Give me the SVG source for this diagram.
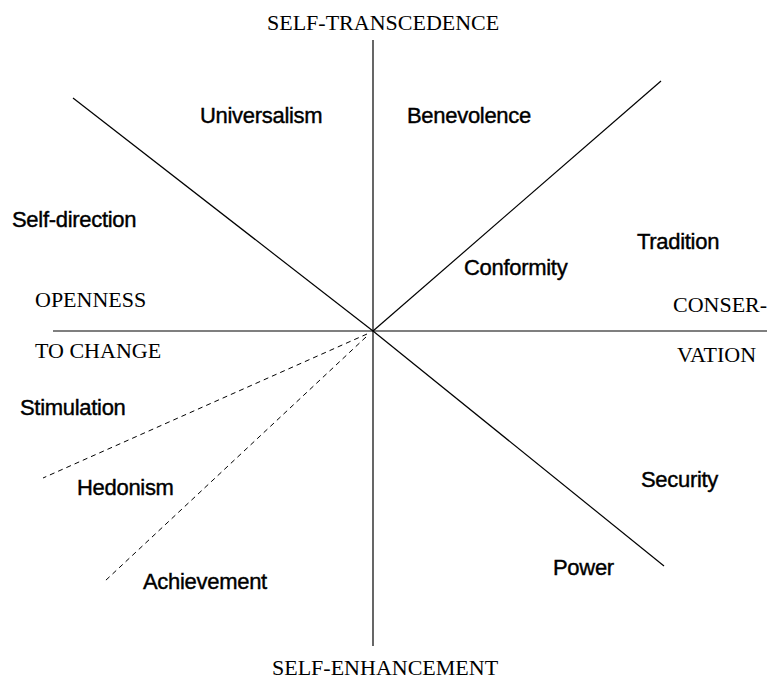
<svg xmlns="http://www.w3.org/2000/svg" width="767" height="680" viewBox="0 0 767 680">
<style>
.ax{stroke:#000;stroke-width:1.2;fill:none}
.ds{stroke:#000;stroke-width:1;fill:none;stroke-dasharray:5,4}
.v{font-family:"Liberation Sans",Arial,sans-serif;font-size:22px;fill:#000;stroke:#000;stroke-width:0.4;letter-spacing:-0.3px}
.d{font-family:"Liberation Serif","Times New Roman",serif;font-size:22px;fill:#000}
</style>
<rect width="767" height="680" fill="#fff"/>
<g id="connectors">
<line class="ax" x1="373" y1="40" x2="373" y2="646"/>
<line class="ax" x1="53" y1="331" x2="767" y2="331"/>
<line class="ax" x1="73" y1="98" x2="373" y2="331"/>
<line class="ax" x1="373" y1="331" x2="664" y2="566"/>
<line class="ax" x1="373" y1="331" x2="661" y2="81"/>
<line class="ds" x1="367" y1="334" x2="43" y2="478"/>
<line class="ds" x1="366" y1="337" x2="105" y2="581"/>
</g>
<g id="dimensions">
<text id="self-transcendence" class="d" x="267" y="30">SELF-TRANSCEDENCE</text>
<text id="openness" class="d" x="35" y="307">OPENNESS</text>
<text id="to-change" class="d" x="35" y="358">TO CHANGE</text>
<text id="conser" class="d" x="673" y="312">CONSER-</text>
<text id="vation" class="d" x="677" y="362">VATION</text>
<text id="self-enhancement" class="d" x="272" y="675">SELF-ENHANCEMENT</text>
</g>
<g id="universalism"><text class="v" x="200" y="123">Universalism</text></g>
<g id="benevolence"><text class="v" x="407" y="123">Benevolence</text></g>
<g id="self-direction"><text class="v" x="12" y="227">Self-direction</text></g>
<g id="tradition"><text class="v" x="637" y="249">Tradition</text></g>
<g id="conformity"><text class="v" x="464" y="275">Conformity</text></g>
<g id="stimulation"><text class="v" x="20" y="415">Stimulation</text></g>
<g id="hedonism"><text class="v" x="77" y="495">Hedonism</text></g>
<g id="security"><text class="v" x="641" y="487">Security</text></g>
<g id="power"><text class="v" x="553" y="575">Power</text></g>
<g id="achievement"><text class="v" x="143" y="589">Achievement</text></g>
</svg>
